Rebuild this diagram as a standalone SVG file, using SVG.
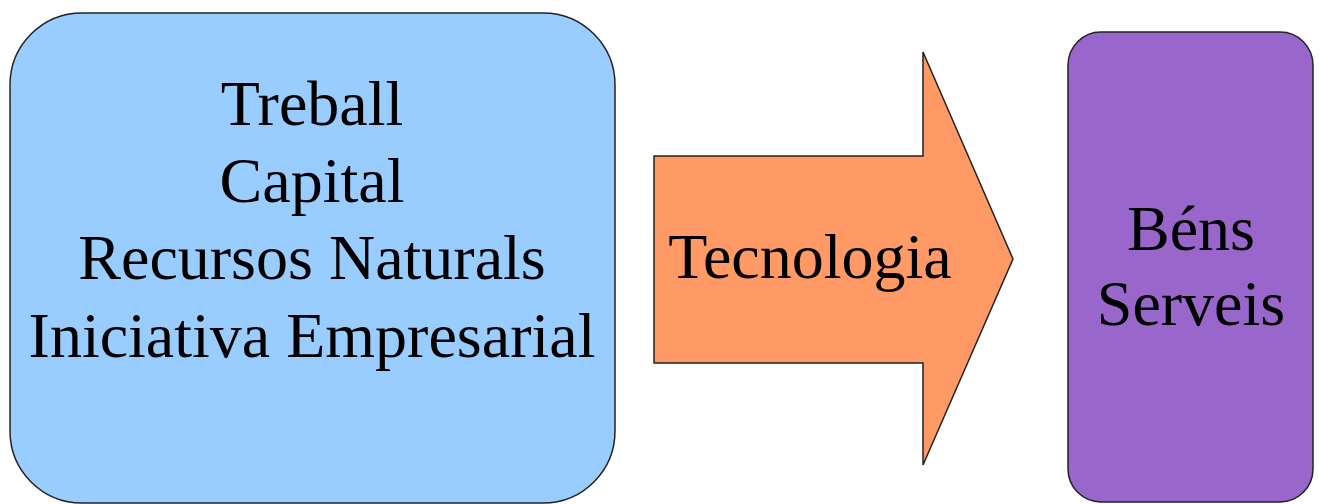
<svg xmlns="http://www.w3.org/2000/svg" width="1319" height="504" viewBox="0 0 1319 504">
<style>
.shape{stroke:#222;stroke-width:1.5}
.t{font-family:"Liberation Serif","Times New Roman",serif;font-size:64px;fill:#000;text-anchor:middle}
</style>
<rect width="1319" height="504" fill="#fff"/>
<g id="inputs">
<rect class="shape" x="10" y="13" width="605" height="490" rx="72" ry="72" fill="#99ccff"/>
<text class="t" x="312" y="125">Treball</text>
<text class="t" x="312" y="202">Capital</text>
<text class="t" x="312" y="279">Recursos Naturals</text>
<text class="t" x="312" y="357">Iniciativa Empresarial</text>
</g>
<g id="connectors">
<g id="tecnologia">
<polygon class="shape" points="654,156 923,156 923,52 1013,259 923,465 923,363 654,363" fill="#ff9966"/>
<text class="t" x="810" y="278">Tecnologia</text>
</g>
</g>
<g id="outputs">
<rect class="shape" x="1068" y="32" width="245" height="470" rx="33" ry="33" fill="#9966cc"/>
<text class="t" x="1191" y="250">Béns</text>
<text class="t" x="1191" y="325">Serveis</text>
</g>
</svg>
